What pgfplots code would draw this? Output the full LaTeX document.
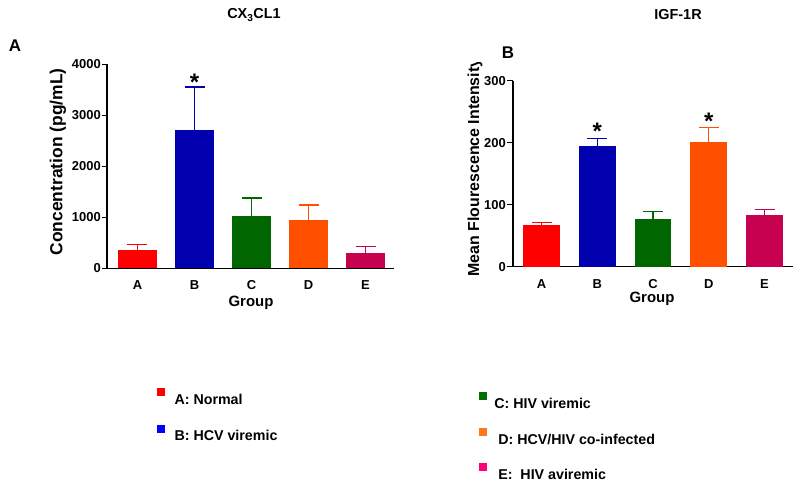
\documentclass[border=0pt]{standalone}
\usepackage{pgfplots}
\pgfplotsset{compat=1.18}
\usepackage{fontspec}
\setmainfont{Liberation Sans}
\definecolor{barA}{RGB}{255,0,0}
\definecolor{barB}{RGB}{0,0,175}
\definecolor{barC}{RGB}{0,102,0}
\definecolor{barD}{RGB}{255,80,0}
\definecolor{barE}{RGB}{200,0,80}
\definecolor{legA}{RGB}{255,0,0}
\definecolor{legB}{RGB}{0,0,255}
\definecolor{legC}{RGB}{0,110,0}
\definecolor{legD}{RGB}{255,120,30}
\definecolor{legE}{RGB}{255,0,128}
\newcommand{\tl}{\fontsize{13}{15}\selectfont\bfseries}
\pgfplotsset{
  panel/.style={
    scale only axis,
    anchor=south west,
    axis lines*=left,
    axis line style={line width=1.6bp},
    ybar, bar shift=0pt,
    ymin=0,
    xtick={0,1,2,3,4},
    xticklabels={\tl A,\tl B,\tl C,\tl D,\tl E},
    x tick style={draw=none},
    y tick style={line width=1.4bp, black},
    tick align=outside,
    major tick length=5bp,
    tick label style={font=\tl},
    xticklabel style={yshift=-3.5bp},
    yticklabel style={inner sep=1bp},
    /pgf/number format/assume math mode=true,
    clip=false,
    legend cell align=left,
    legend style={draw=none, fill=none, inner sep=0pt,
      font=\fontsize{14.3}{16}\selectfont\bfseries},
    error bars/y dir=plus,
    error bars/y explicit,
  },
  grp/.style 2 args={fill=#1, draw=none, legend image code/.code={\fill[#2] (0bp,4bp) rectangle (8bp,12bp);},
    error bars/error bar style={#1, line width=1.3bp},
    error bars/error mark options={#1, line width=1.3bp, mark size=10bp, rotate=90}},
}
\begin{document}
\begin{tikzpicture}[x=1bp,y=1bp]
\useasboundingbox (0,0) rectangle (800,487);
% ---------- Panel A ----------
\begin{axis}[panel,
  at={(107bp,218.5bp)}, width=287bp, height=204bp,
  xmin=-0.535, xmax=4.5, ymax=4000, bar width=0.68,
  ytick={0,1000,2000,3000,4000},
  yticklabels={\tl 0,\tl 1000,\tl 2000,\tl 3000,\tl 4000},
  legend style={at={(0.172,-0.583)}, anchor=north west, row sep=17bp},
]
\addplot[grp={barA}{legA}] coordinates {(0,372) +- (0,98)};
\addlegendentry{\hspace{8bp}A: Normal}
\addplot[grp={barB}{legB}] coordinates {(1,2708) +- (0,848)};
\addlegendentry{\hspace{8bp}B: HCV viremic}
\addplot[grp={barC}{legC}, forget plot] coordinates {(2,1031) +- (0,352)};
\addplot[grp={barD}{legD}, forget plot] coordinates {(3,959) +- (0,287)};
\addplot[grp={barE}{legE}, forget plot] coordinates {(4,294) +- (0,137)};
\node[anchor=base, font=\fontsize{24}{24}\selectfont\bfseries, yshift=-3bp] at (axis cs:1,3556) {*};
\end{axis}
% ---------- Panel B ----------
\begin{axis}[panel,
  at={(513bp,220.3bp)}, width=280bp, height=186bp,
  xmin=-0.511, xmax=4.511, ymax=300, bar width=0.66,
  ytick={0,100,200,300},
  yticklabels={\tl 0,\tl 100,\tl 200,\tl 300},
  major tick length=6bp,
  legend style={at={(-0.121,-0.674)}, anchor=north west, row sep=15.5bp},
]
\addplot[grp={barA}{legA}, forget plot] coordinates {(0,67.2) +- (0,4.3)};
\addplot[grp={barB}{legB}, forget plot] coordinates {(1,195.2) +- (0,11.8)};
\addplot[grp={barC}{legC}] coordinates {(2,76.3) +- (0,12.4)};
\addlegendentry{\hspace{5bp}C: HIV viremic}
\addplot[grp={barD}{legD}] coordinates {(3,201) +- (0,23.7)};
\addlegendentry{\hspace{9bp}D: HCV/HIV co-infected}
\addplot[grp={barE}{legE}] coordinates {(4,83.9) +- (0,8.6)};
\addlegendentry{\hspace{9bp}E:\ \ HIV aviremic}
\node[anchor=base, font=\fontsize{24}{24}\selectfont\bfseries, yshift=-1bp] at (axis cs:1,207) {*};
\node[anchor=base, font=\fontsize{24}{24}\selectfont\bfseries, yshift=-2bp] at (axis cs:3,224.7) {*};
\end{axis}
% ---------- Titles and labels ----------
\node[font=\fontsize{14.5}{16}\selectfont\bfseries] at (254,472) {CX\textsubscript{3}CL1};
\node[font=\fontsize{14.5}{16}\selectfont\bfseries] at (678,472) {IGF-1R};
\node[font=\fontsize{17}{18}\selectfont\bfseries] at (15,441) {A};
\node[font=\fontsize{17}{18}\selectfont\bfseries] at (508,434) {B};
\node[font=\fontsize{17.5}{18}\selectfont\bfseries, rotate=90] at (58,325) {Concentration (pg/mL)};
\begin{scope}
\clip (400,0) rectangle (520,424);
\node[font=\fontsize{16}{18}\selectfont\bfseries, rotate=90] at (475,319.5) {Mean Flourescence Intensity};
\end{scope}
\node[font=\fontsize{15}{16}\selectfont\bfseries] at (251,184) {Group};
\node[font=\fontsize{15}{16}\selectfont\bfseries] at (652,188) {Group};
\end{tikzpicture}
\end{document}
